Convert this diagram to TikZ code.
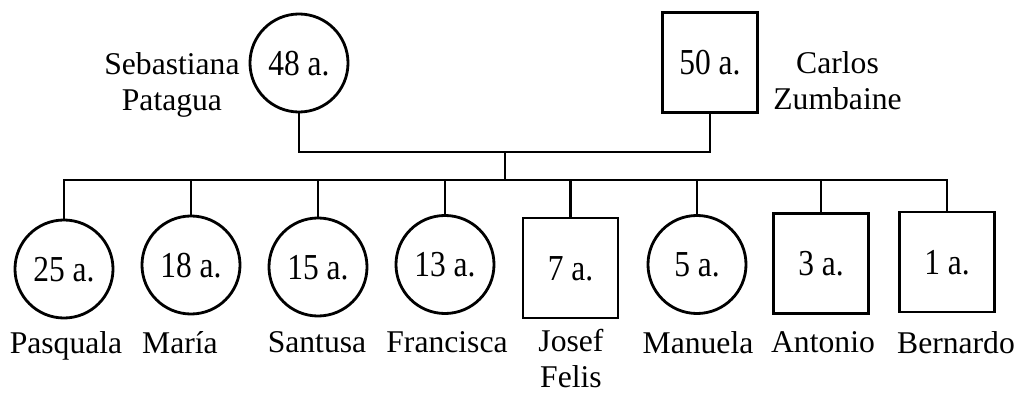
\documentclass[tikz,border=0pt]{standalone}
\usepackage{fontspec}
\setmainfont{Liberation Serif}
\newfontfamily\agefont{Liberation Serif}[FakeStretch=0.86]
\begin{document}
\begin{tikzpicture}[x=0.025cm, y=-0.025cm, line width=2pt,
        every node/.style={font=\fontsize{22.5}{25.5}\selectfont},
        fem/.style={circle, draw, minimum size=2.45cm, inner sep=0pt, font=\agefont\fontsize{26}{28}\selectfont, text height=0.62cm, text depth=0pt},
        masc/.style={rectangle, draw, minimum width=2.375cm, minimum height=2.5cm, inner sep=0pt, font=\agefont\fontsize{26}{28}\selectfont, text height=0.62cm, text depth=0pt},
        lbl/.style={anchor=north, inner sep=0pt, align=center}]
        \useasboundingbox (0,0) rectangle (1021,394);

        % parents
        \node(mother) [fem] at (299, 63) {48 a.};
        \node(father) [masc] at (710, 62.5) {50 a.};
        \node(motherlbl) [lbl, anchor=north east] at (241, 51) {Sebastiana\\Patagua};
        \node(fatherlbl) [lbl, anchor=north west] at (772, 50) {Carlos\\Zumbaine};

        % children
        \node(c1) [fem] at (64, 269) {25 a.};
        \node(c2) [fem] at (191, 265) {18 a.};
        \node(c3) [fem] at (318, 267) {15 a.};
        \node(c4) [fem] at (445, 264.5) {13 a.};
        \node(c5) [masc] at (570.5, 268) {7 a.};
        \node(c6) [fem] at (697, 264.5) {5 a.};
        \node(c7) [masc] at (821, 263.5) {3 a.};
        \node(c8) [masc] at (947, 262) {1 a.};

        \node(n1) [lbl] at (66, 330) {Pasquala};
        \node(n2) [lbl] at (180, 330) {María};
        \node(n3) [lbl] at (317, 330) {Santusa};
        \node(n4) [lbl] at (447, 330) {Francisca};
        \node(n5) [lbl] at (571, 328) {Josef\\Felis};
        \node(n6) [lbl] at (698, 330) {Manuela};
        \node(n7) [lbl] at (823, 330) {Antonio};
        \node(n8) [lbl] at (956, 330) {Bernardo};

        \coordinate(union) at (505, 152);
        \coordinate(sibs) at (505, 180);

        %edges
        \draw (mother) |- (union) -| (father);
        \draw (union) -- (sibs);
        \draw (c1) -- (c1 |- sibs) -- (c8 |- sibs) -- (c8);
        \foreach \i in {2,...,7}
            \draw (c\i) -- (c\i |- sibs);

    \end{tikzpicture}
\end{document}
